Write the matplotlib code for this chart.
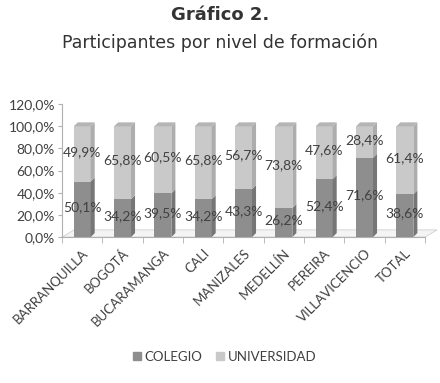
import matplotlib.pyplot as plt
from matplotlib.patches import Polygon

ciudades = ['BARRANQUILLA', 'BOGOTÁ', 'BUCARAMANGA', 'CALI', 'MANIZALES',
            'MEDELLÍN', 'PEREIRA', 'VILLAVICENCIO', 'TOTAL']
colegio = [50.1, 34.2, 39.5, 34.2, 43.3, 26.2, 52.4, 71.6, 38.6]
universidad = [49.9, 65.8, 60.5, 65.8, 56.7, 73.8, 47.6, 28.4, 61.4]
yticks = [0, 20, 40, 60, 80, 100, 120]

c_col = '#8e8e8e'
c_col_side = '#767676'
c_uni = '#c9c9c9'
c_uni_side = '#adadad'
txt = '#404040'

fig = plt.figure(figsize=(4.4, 3.83), dpi=100)
ax = fig.add_axes([0.141, 0.381, 0.825, 0.347])

w = 0.42
dx, dy = 0.1, 3.6
n = len(ciudades)

# floor
ax.add_patch(Polygon([(-0.5, 0), (n - 0.5, 0), (n - 0.5 + 0.3, dy * 1.8),
                      (-0.5 + 0.3, dy * 1.8)], closed=True,
                     facecolor='#f4f4f4', edgecolor='#d0d0d0', lw=0.6,
                     zorder=1, clip_on=False))

for i in range(n):
    c, u = colegio[i], universidad[i]
    ax.bar(i, c, w, color=c_col, zorder=3)
    ax.bar(i, u, w, bottom=c, color=c_uni, zorder=3)
    r = i + w / 2
    # side faces
    ax.add_patch(Polygon([(r, 0), (r + dx, dy), (r + dx, c + dy), (r, c)],
                         closed=True, facecolor=c_col_side, lw=0, zorder=3))
    ax.add_patch(Polygon([(r, c), (r + dx, c + dy), (r + dx, c + u + dy), (r, c + u)],
                         closed=True, facecolor=c_uni_side, lw=0, zorder=3))
    # top face
    ax.add_patch(Polygon([(i - w / 2, c + u), (r, c + u), (r + dx, c + u + dy),
                          (i - w / 2 + dx, c + u + dy)],
                         closed=True, facecolor='#b5b5b5', lw=0, zorder=3))
    ax.text(i, c / 2 + 2, f'{c:.1f}%'.replace('.', ','), ha='center', va='center',
            fontsize=10, color=txt, family='Lato', zorder=4)
    ax.text(i, c + u / 2 + 2, f'{u:.1f}%'.replace('.', ','), ha='center', va='center',
            fontsize=10, color=txt, family='Lato', zorder=4)

ax.set_xlim(-0.5, n - 0.5)
ax.set_ylim(0, 120)
ax.set_yticks(yticks)
ax.set_yticklabels([f'{v:.1f}%'.replace('.', ',') for v in yticks],
                   fontsize=10, color=txt, family='Lato')
ax.set_xticks(range(n))
ax.set_xticklabels(ciudades, rotation=45, ha='right', rotation_mode='anchor',
                   fontsize=9.5, color=txt, family='Lato')
ax.set_xticks([i + 0.5 for i in range(-1, n)], minor=True)
ax.tick_params(axis='x', which='major', length=0, pad=7)
ax.tick_params(axis='x', which='minor', length=4, color='#b0b0b0')
ax.tick_params(axis='y', length=3, color='#b0b0b0', pad=2)
for s in ['top', 'right']:
    ax.spines[s].set_visible(False)
for s in ['left', 'bottom']:
    ax.spines[s].set_color('#b0b0b0')

fig.text(0.5, 0.96, 'Gráfico 2.', ha='center', va='center', fontsize=13,
         fontweight='bold', color='#333333', family='DejaVu Sans')
fig.text(0.5, 0.888, 'Participantes por nivel de formación', ha='center',
         va='center', fontsize=12.5, color='#333333', family='DejaVu Sans')

h1 = plt.Rectangle((0, 0), 1, 1, color=c_col)
h2 = plt.Rectangle((0, 0), 1, 1, color=c_uni)
fig.legend([h1, h2], ['COLEGIO', 'UNIVERSIDAD'], loc='center', ncol=2,
           bbox_to_anchor=(0.51, 0.068), frameon=False, handlelength=0.6,
           handleheight=0.6, handletextpad=0.3, columnspacing=1.0,
           prop={'family': 'Lato', 'size': 9.5}, labelcolor=txt)

fig.savefig('out.png', dpi=100)
